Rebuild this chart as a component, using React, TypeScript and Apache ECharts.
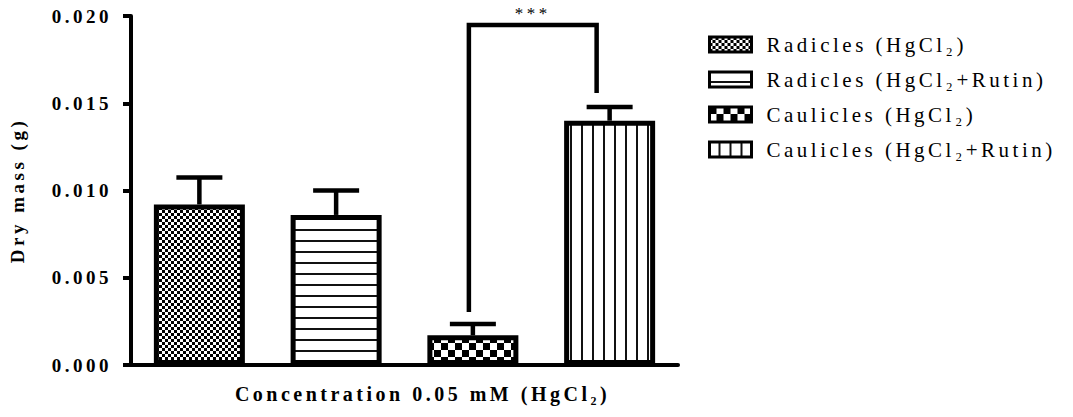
import React, { useEffect, useRef } from "react";
import * as echarts from "echarts";

const categories = [
  "Radicles (HgCl₂)",
  "Radicles (HgCl₂+Rutin)",
  "Caulicles (HgCl₂)",
  "Caulicles (HgCl₂+Rutin)",
];
const means = [0.0092, 0.0086, 0.0017, 0.014];
const upperErr = [0.01074, 0.01, 0.00235, 0.01479];
const sigPair = [2, 3];
const sigLevels = [0.01948, 0.00304, 0.01559]; // top, left end, right end
const sigLabel = "***";
const yAxisName = "Dry mass (g)";
const xAxisName = "Concentration 0.05 mM (HgCl₂)";

function makePattern(kind: string): HTMLCanvasElement {
  const c = document.createElement("canvas");
  const ctx = c.getContext("2d")!;
  if (kind === "fine") {
    c.width = 6; c.height = 6;
    ctx.fillStyle = "#fff"; ctx.fillRect(0, 0, 6, 6);
    ctx.fillStyle = "#000"; ctx.fillRect(0, 0, 3, 3); ctx.fillRect(3, 3, 3, 3);
  } else if (kind === "coarse") {
    c.width = 14; c.height = 14;
    ctx.fillStyle = "#fff"; ctx.fillRect(0, 0, 14, 14);
    ctx.fillStyle = "#000"; ctx.fillRect(0, 0, 7, 7); ctx.fillRect(7, 7, 7, 7);
  } else if (kind === "hline") {
    c.width = 10; c.height = 11;
    ctx.fillStyle = "#fff"; ctx.fillRect(0, 0, 10, 11);
    ctx.fillStyle = "#111"; ctx.fillRect(0, 9, 10, 2);
  } else {
    c.width = 11; c.height = 10;
    ctx.fillStyle = "#fff"; ctx.fillRect(0, 0, 11, 10);
    ctx.fillStyle = "#111"; ctx.fillRect(9, 0, 2, 10);
  }
  return c;
}

export default function App() {
  const ref = useRef<HTMLDivElement>(null);
  useEffect(() => {
    const chart = echarts.init(ref.current!, null, { renderer: "svg" });
    const kinds = ["fine", "hline", "coarse", "vline"];
    const patterns = kinds.map((k) => ({ image: makePattern(k), repeat: "repeat" }));
    const serif = "'Liberation Serif', 'Times New Roman', serif";
    const barSeries = categories.map((name, i) => ({
      type: "bar",
      name,
      data: categories.map((_, j) => (j === i ? means[i] : "-")),
      barWidth: 91,
      barGap: "-100%",
      itemStyle: { color: patterns[i], borderColor: "#000", borderWidth: 5 },
      z: 2,
    }));
    const option: any = {
      animation: false,
      backgroundColor: "#fff",
      grid: { left: 130, right: 395, top: 16, bottom: 52 },
      legend: {
        orient: "vertical",
        left: 703,
        top: 29,
        itemWidth: 42,
        itemHeight: 15,
        itemGap: 14,
        icon: "rect",
        data: categories,
        textStyle: { fontFamily: serif, fontSize: 21, color: "#000", padding: [0, 0, 0, 10] },
        itemStyle: { borderColor: "#000", borderWidth: 3 },
      },
      xAxis: {
        type: "category",
        data: categories,
        axisLine: { lineStyle: { color: "#000", width: 4 } },
        axisTick: { alignWithLabel: true, length: 8, lineStyle: { color: "#000", width: 4 } },
        axisLabel: { show: false },
        name: xAxisName,
        nameLocation: "middle",
        nameGap: 19,
        nameTextStyle: { fontFamily: serif, fontWeight: "bold", fontSize: 20, color: "#000", padding: [0, 0, 0, 36] },
      },
      yAxis: {
        type: "value",
        min: 0,
        max: 0.02,
        interval: 0.005,
        splitLine: { show: false },
        axisLine: { show: true, lineStyle: { color: "#000", width: 4 } },
        axisTick: { show: true, length: 8, lineStyle: { color: "#000", width: 4 } },
        axisLabel: {
          formatter: (v: number) => v.toFixed(3),
          fontFamily: serif,
          fontWeight: "bold",
          fontSize: 19,
          color: "#000",
          margin: 19,
        },
        name: yAxisName,
        nameLocation: "middle",
        nameGap: 104,
        nameRotate: 90,
        nameTextStyle: { fontFamily: serif, fontWeight: "bold", fontSize: 19, color: "#000" },
      },
      series: [
        ...barSeries,
        {
          type: "custom",
          name: "err",
          z: 3,
          data: means.map((m, i) => [i, m, upperErr[i]]),
          renderItem: (_p: any, api: any) => {
            const b = api.coord([api.value(0), api.value(1)]);
            const t = api.coord([api.value(0), api.value(2)]);
            return {
              type: "group",
              children: [
                { type: "line", shape: { x1: b[0], y1: b[1], x2: t[0], y2: t[1] }, style: { stroke: "#000", lineWidth: 4.5 } },
                { type: "line", shape: { x1: t[0] - 23, y1: t[1], x2: t[0] + 23, y2: t[1] }, style: { stroke: "#000", lineWidth: 4.5 } },
              ],
            };
          },
        },
        {
          type: "custom",
          name: "sig",
          z: 4,
          data: [[sigPair[0], sigPair[1], sigLevels[0], sigLevels[1], sigLevels[2]]],
          renderItem: (_p: any, api: any) => {
            const a = api.value(0), b = api.value(1);
            const pl = api.coord([a, api.value(3)]);
            const pt = api.coord([a, api.value(2)]);
            const pr = api.coord([b, api.value(2)]);
            const pe = api.coord([b, api.value(4)]);
            const xl = pl[0] - 4, xr = pr[0] - 13;
            return {
              type: "group",
              children: [
                {
                  type: "polyline",
                  shape: { points: [[xl, pl[1]], [xl, pt[1]], [xr, pr[1]], [xr, pe[1]]] },
                  style: { stroke: "#000", lineWidth: 4.5, fill: "none" },
                },
                {
                  type: "text",
                  x: (xl + xr) / 2,
                  y: pt[1] - 3,
                  style: { text: sigLabel, fill: "#000", font: "17px 'Liberation Serif', serif", align: "center", verticalAlign: "bottom" },
                },
              ],
            };
          },
        },
      ],
    };
    chart.setOption(option);
    return () => chart.dispose();
  }, []);
  return (
    <>
      <style>{`.chartbox text { letter-spacing: 3.5px; }`}</style>
      <div
        ref={ref}
        className="chartbox"
        style={{ position: "absolute", left: 0, top: 0, width: 1073, height: 417 }}
      />
    </>
  );
}
